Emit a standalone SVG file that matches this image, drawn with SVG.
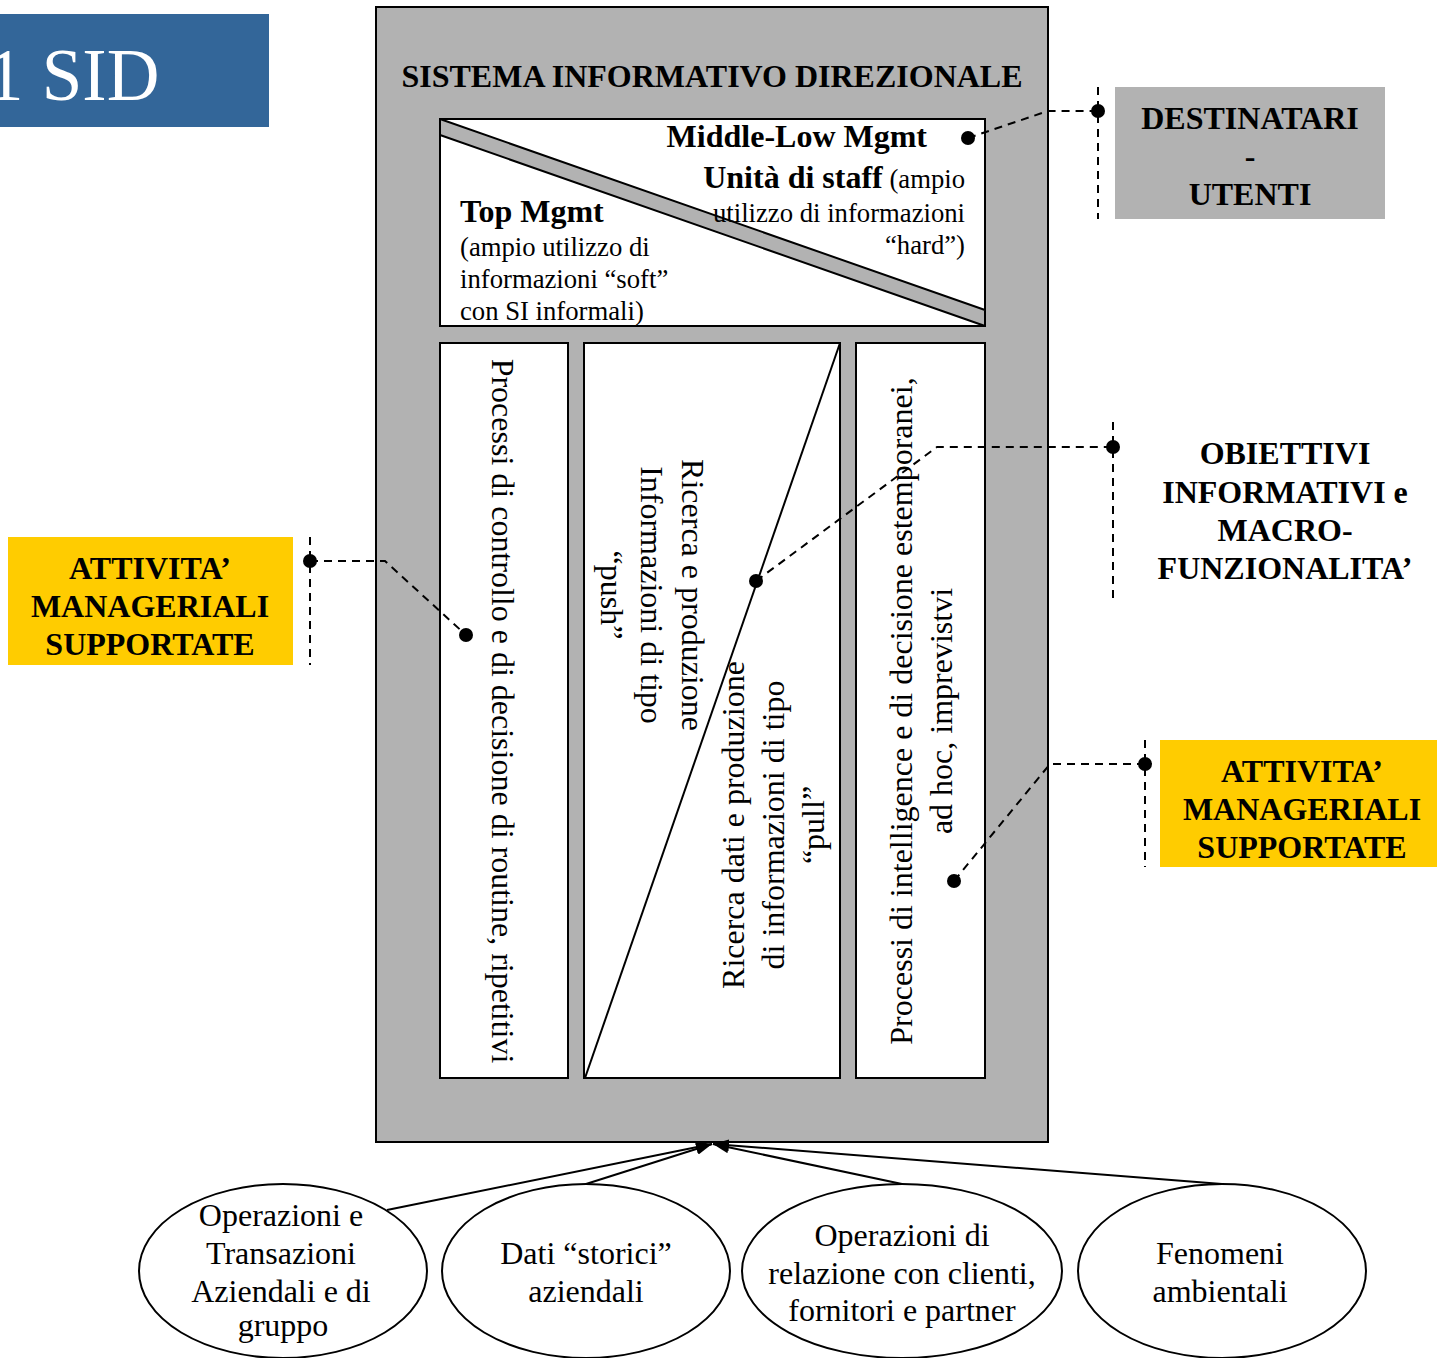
<svg xmlns="http://www.w3.org/2000/svg" width="1437" height="1358" viewBox="0 0 1437 1358">
<style>
  text { font-family: "Liberation Serif", "Times New Roman", serif; fill: #000; }
  .b { font-weight: bold; font-size: 32px; }
  .r { font-size: 26.7px; }
  .m { font-size: 32px; }
  .e { font-size: 32px; text-anchor: middle; }
  .c { text-anchor: middle; }
  .end { text-anchor: end; }
  .box { fill: #fff; stroke: #000; stroke-width: 2; }
  .dash { fill: none; stroke: #000; stroke-width: 2; stroke-dasharray: 8 6; }
  .arrow { fill: none; stroke: #000; stroke-width: 2; marker-end: url(#ah); }
  .dot { fill: #000; }
  .ell { fill: #fff; stroke: #000; stroke-width: 2; }
</style>
<defs>
  <marker id="ah" markerUnits="userSpaceOnUse" markerWidth="18" markerHeight="12" refX="16" refY="6" orient="auto">
    <path d="M0,0 L16,6 L0,12 Z" fill="#000"/>
  </marker>
</defs>
<rect width="1437" height="1358" fill="#fff"/>

<g id="title">
  <rect x="0" y="14" width="269" height="113" fill="#336699"/>
  <text x="-13" y="100" style="font-size:73px;fill:#fff">1 SID</text>
</g>

<g id="sid">
  <rect x="376" y="7" width="672" height="1135" fill="#b2b2b2" stroke="#000" stroke-width="2"/>
  <text class="b c" x="712" y="87">SISTEMA INFORMATIVO DIREZIONALE</text>
</g>

<g id="top-panel">
  <rect class="box" x="440" y="119" width="545" height="207"/>
  <polygon points="440,119 985,310 985,326 440,135" fill="#b2b2b2" stroke="#000" stroke-width="2" stroke-linejoin="round"/>
  <text class="b end" x="927" y="147">Middle-Low Mgmt</text>
  <text class="end" x="965" y="188"><tspan class="b">Unità di staff</tspan><tspan class="r"> (ampio</tspan></text>
  <text class="r end" x="965" y="222">utilizzo di informazioni</text>
  <text class="r end" x="965" y="254">“hard”)</text>
  <text class="b" x="460" y="222">Top Mgmt</text>
  <text class="r" x="460" y="256">(ampio utilizzo di</text>
  <text class="r" x="460" y="288">informazioni “soft”</text>
  <text class="r" x="460" y="320">con SI informali)</text>
</g>

<g id="col-left">
  <rect class="box" x="440" y="343" width="128" height="735"/>
  <text class="m c" transform="translate(492,711) rotate(90)">Processi di controllo e di decisione di routine, ripetitivi</text>
</g>

<g id="col-mid">
  <rect class="box" x="584" y="343" width="256" height="735"/>
  <line x1="840" y1="343" x2="585" y2="1078" stroke="#000" stroke-width="2"/>
  <text class="m c" transform="translate(682,595) rotate(90)">Ricerca e produzione</text>
  <text class="m c" transform="translate(641,595) rotate(90)">Informazioni di tipo</text>
  <text class="m c" transform="translate(601,595) rotate(90)">“push”</text>
  <text class="m c" transform="translate(744,825) rotate(-90)">Ricerca dati e produzione</text>
  <text class="m c" transform="translate(784,825) rotate(-90)">di informazioni di tipo</text>
  <text class="m c" transform="translate(824,825) rotate(-90)">“pull”</text>
</g>

<g id="col-right">
  <rect class="box" x="856" y="343" width="129" height="735"/>
  <text class="m c" transform="translate(912,711) rotate(-90)">Processi di intelligence e di decisione estemporanei,</text>
  <text class="m c" transform="translate(952,711) rotate(-90)">ad hoc, imprevistvi</text>
</g>

<g id="destinatari">
  <rect x="1115" y="87" width="270" height="132" fill="#b2b2b2"/>
  <text class="b c" x="1250" y="129">DESTINATARI</text>
  <text class="b c" x="1250" y="167">-</text>
  <text class="b c" x="1250" y="205">UTENTI</text>
</g>

<g id="obiettivi">
  <text class="b c" x="1285" y="464">OBIETTIVI</text>
  <text class="b c" x="1285" y="503">INFORMATIVI e</text>
  <text class="b c" x="1285" y="541">MACRO-</text>
  <text class="b c" x="1285" y="579">FUNZIONALITA’</text>
</g>

<g id="attivita-left">
  <rect x="8" y="537" width="285" height="128" fill="#ffcc00"/>
  <text class="b c" x="150" y="579">ATTIVITA’</text>
  <text class="b c" x="150" y="617">MANAGERIALI</text>
  <text class="b c" x="150" y="655">SUPPORTATE</text>
</g>

<g id="attivita-right">
  <rect x="1160" y="740" width="277" height="127" fill="#ffcc00"/>
  <text class="b c" x="1302" y="782">ATTIVITA’</text>
  <text class="b c" x="1302" y="820">MANAGERIALI</text>
  <text class="b c" x="1302" y="858">SUPPORTATE</text>
</g>

<g id="src-operazioni">
  <ellipse class="ell" cx="283" cy="1271" rx="144" ry="87"/>
  <text class="e" x="281" y="1226">Operazioni e</text>
  <text class="e" x="281" y="1264">Transazioni</text>
  <text class="e" x="281" y="1302">Aziendali e di</text>
  <text class="e" x="283" y="1336">gruppo</text>
</g>
<g id="src-storici">
  <ellipse class="ell" cx="586" cy="1271" rx="144" ry="87"/>
  <text class="e" x="586" y="1264">Dati “storici”</text>
  <text class="e" x="586" y="1302">aziendali</text>
</g>
<g id="src-relazione">
  <ellipse class="ell" cx="902" cy="1271" rx="160" ry="87"/>
  <text class="e" x="902" y="1246">Operazioni di</text>
  <text class="e" x="902" y="1284">relazione con clienti,</text>
  <text class="e" x="902" y="1321">fornitori e partner</text>
</g>
<g id="src-fenomeni">
  <ellipse class="ell" cx="1222" cy="1271" rx="144" ry="87"/>
  <text class="e" x="1220" y="1264">Fenomeni</text>
  <text class="e" x="1220" y="1302">ambientali</text>
</g>

<g id="connectors">
  <line class="dash" x1="1098" y1="87" x2="1098" y2="219"/>
  <polyline class="dash" points="968,138 1048,111 1098,111"/>
  <line class="dash" x1="1113" y1="422" x2="1113" y2="598"/>
  <polyline class="dash" points="756,581 937,447 1113,447"/>
  <line class="dash" x1="310" y1="537" x2="310" y2="665"/>
  <polyline class="dash" points="310,561 385,561 466,635"/>
  <line class="dash" x1="1145" y1="740" x2="1145" y2="867"/>
  <polyline class="dash" points="1145,764 1050,764 954,881"/>
  <circle class="dot" cx="968" cy="138" r="7"/>
  <circle class="dot" cx="1098" cy="111" r="7"/>
  <circle class="dot" cx="756" cy="581" r="7"/>
  <circle class="dot" cx="1113" cy="447" r="7"/>
  <circle class="dot" cx="310" cy="561" r="7"/>
  <circle class="dot" cx="466" cy="635" r="7"/>
  <circle class="dot" cx="1145" cy="764" r="7"/>
  <circle class="dot" cx="954" cy="881" r="7"/>
  <line class="arrow" x1="387" y1="1210" x2="712" y2="1144"/>
  <line class="arrow" x1="586" y1="1184" x2="712" y2="1144"/>
  <line class="arrow" x1="902" y1="1184" x2="713" y2="1144"/>
  <line class="arrow" x1="1222" y1="1184" x2="713" y2="1144"/>
</g>
</svg>
